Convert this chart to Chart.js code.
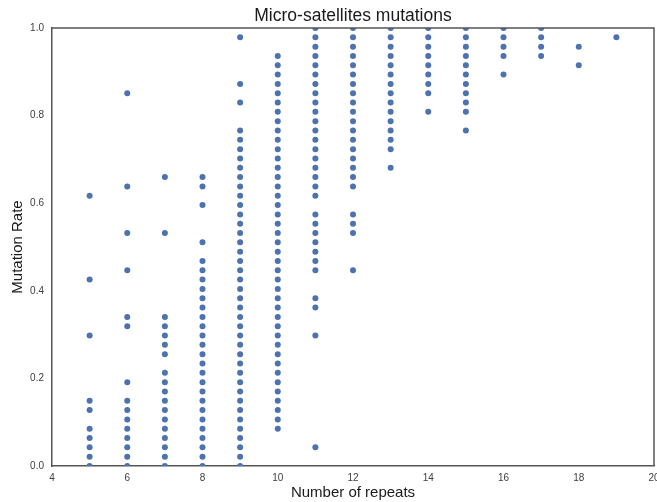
<!DOCTYPE html>
<html>
<head>
<meta charset="utf-8">
<script src="https://cdn.jsdelivr.net/npm/chart.js@4/dist/chart.umd.min.js"></script>
<style>
  html, body { margin: 0; padding: 0; background: #ffffff; }
  #wrap { width: 657px; height: 502px; }
</style>
</head>
<body>
<div id="wrap"><canvas id="c" width="657" height="502"></canvas></div>
<script>
// Number of repeats (x categories)
const repeats = [5, 6, 7, 8, 9, 10, 11, 12, 13, 14, 15, 16, 17, 18, 19];

// Mutation rates observed for each number of repeats
const rate5  = [0.000, 0.021, 0.043, 0.064, 0.085, 0.128, 0.149, 0.298, 0.426, 0.617];
const rate6  = [0.000, 0.021, 0.043, 0.064, 0.085, 0.106, 0.128, 0.149, 0.191, 0.319, 0.340, 0.447, 0.532, 0.638, 0.851];
const rate7  = [0.000, 0.021, 0.043, 0.064, 0.085, 0.106, 0.128, 0.149, 0.170, 0.191, 0.213, 0.255, 0.277, 0.298, 0.319, 0.340, 0.532, 0.660];
const rate8  = [0.000, 0.021, 0.043, 0.064, 0.085, 0.106, 0.128, 0.149, 0.170, 0.191, 0.213, 0.234, 0.255, 0.277, 0.298, 0.319, 0.340, 0.362, 0.383, 0.404, 0.426, 0.447, 0.468, 0.511, 0.596, 0.638, 0.660];
const rate9  = [0.000, 0.021, 0.043, 0.064, 0.085, 0.106, 0.128, 0.149, 0.170, 0.191, 0.213, 0.234, 0.255, 0.277, 0.298, 0.319, 0.340, 0.362, 0.383, 0.404, 0.426, 0.447, 0.468, 0.489, 0.511, 0.532, 0.553, 0.574, 0.596, 0.617, 0.638, 0.660, 0.681, 0.702, 0.723, 0.745, 0.766, 0.830, 0.872, 0.979];
const rate10 = [0.085, 0.106, 0.128, 0.149, 0.170, 0.191, 0.213, 0.234, 0.255, 0.277, 0.298, 0.319, 0.340, 0.362, 0.383, 0.404, 0.426, 0.447, 0.468, 0.489, 0.511, 0.532, 0.553, 0.574, 0.596, 0.617, 0.638, 0.660, 0.681, 0.702, 0.723, 0.745, 0.766, 0.787, 0.809, 0.830, 0.851, 0.872, 0.894, 0.915, 0.936];
const rate11 = [0.043, 0.298, 0.362, 0.383, 0.447, 0.468, 0.489, 0.511, 0.532, 0.553, 0.574, 0.617, 0.638, 0.660, 0.681, 0.702, 0.723, 0.745, 0.766, 0.787, 0.809, 0.830, 0.851, 0.872, 0.894, 0.915, 0.936, 0.957, 0.979, 1.000];
const rate12 = [0.447, 0.532, 0.553, 0.574, 0.638, 0.660, 0.681, 0.702, 0.723, 0.745, 0.766, 0.787, 0.809, 0.830, 0.851, 0.872, 0.894, 0.915, 0.936, 0.957, 0.979, 1.000];
const rate13 = [0.681, 0.723, 0.745, 0.766, 0.787, 0.809, 0.830, 0.851, 0.872, 0.894, 0.915, 0.936, 0.957, 0.979, 1.000];
const rate14 = [0.809, 0.851, 0.872, 0.894, 0.915, 0.936, 0.957, 0.979, 1.000];
const rate15 = [0.766, 0.809, 0.830, 0.851, 0.872, 0.894, 0.915, 0.936, 0.957, 0.979, 1.000];
const rate16 = [0.894, 0.936, 0.957, 0.979, 1.000];
const rate17 = [0.936, 0.957, 0.979, 1.000];
const rate18 = [0.915, 0.957];
const rate19 = [0.979];

// Axis tick labels
const xTicks = [4, 6, 8, 10, 12, 14, 16, 18, 20];
const yTicks = ['0.0', '0.2', '0.4', '0.6', '0.8', '1.0'];

const rateLists = [rate5, rate6, rate7, rate8, rate9, rate10, rate11, rate12, rate13, rate14, rate15, rate16, rate17, rate18, rate19];
const points = [];
repeats.forEach((r, i) => rateLists[i].forEach(v => points.push({ x: r, y: v })));

const FONT = "'Liberation Sans', Arial, Helvetica, sans-serif";

const frame = {
  id: 'frame',
  afterDatasetsDraw(chart) {
    const { ctx, chartArea: a } = chart;
    ctx.save();
    ctx.strokeStyle = '#555555';
    ctx.lineWidth = 1.5;
    ctx.beginPath();
    ctx.moveTo(a.left, a.top);
    ctx.lineTo(a.right, a.top);
    ctx.lineTo(a.right, a.bottom);
    ctx.stroke();
    ctx.restore();
  }
};

new Chart(document.getElementById('c'), {
  type: 'scatter',
  data: {
    datasets: [{
      data: points,
      backgroundColor: '#4c72b0',
      borderWidth: 0,
      pointRadius: 3,
      pointHoverRadius: 3,
      clip: 0
    }]
  },
  options: {
    responsive: false,
    animation: false,
    devicePixelRatio: 1,
    layout: { padding: { left: 0, right: 2, top: 0, bottom: 0 } },
    plugins: {
      legend: { display: false },
      tooltip: { enabled: false },
      title: {
        display: true,
        fullSize: false,
        text: 'Micro-satellites mutations',
        color: '#1a1a1a',
        font: { family: FONT, size: 17.5, weight: 'normal', lineHeight: 1.2 },
        padding: { top: 6, bottom: 1 }
      }
    },
    scales: {
      x: {
        type: 'linear',
        min: 4, max: 20,
        afterBuildTicks(scale) { scale.ticks = xTicks.map(v => ({ value: v })); },
        afterFit(scale) { scale.height = 36; scale.paddingLeft = 0; scale.paddingRight = 0; },
        ticks: {
          color: '#404040',
          font: { family: FONT, size: 10 },
          padding: 6,
          maxRotation: 0,
          callback: v => String(v)
        },
        grid: { display: false, drawTicks: false },
        border: { display: true, color: '#555555', width: 1.5 },
        title: {
          display: true,
          text: 'Number of repeats',
          color: '#1a1a1a',
          font: { family: FONT, size: 15 },
          padding: { top: 0, bottom: 0 }
        }
      },
      y: {
        type: 'linear',
        min: 0, max: 1,
        afterBuildTicks(scale) { scale.ticks = yTicks.map(t => ({ value: parseFloat(t) })); },
        afterFit(scale) { scale.width = 52; scale.paddingTop = 0; scale.paddingBottom = 0; },
        ticks: {
          color: '#404040',
          font: { family: FONT, size: 10 },
          padding: 8,
          callback: v => yTicks.find(t => parseFloat(t) === v) || v.toFixed(1)
        },
        grid: { display: false, drawTicks: false },
        border: { display: true, color: '#555555', width: 1.5 },
        title: {
          display: true,
          text: 'Mutation Rate',
          color: '#1a1a1a',
          font: { family: FONT, size: 15 },
          padding: { top: 9, bottom: 0 }
        }
      }
    }
  },
  plugins: [frame]
});
</script>
</body>
</html>
